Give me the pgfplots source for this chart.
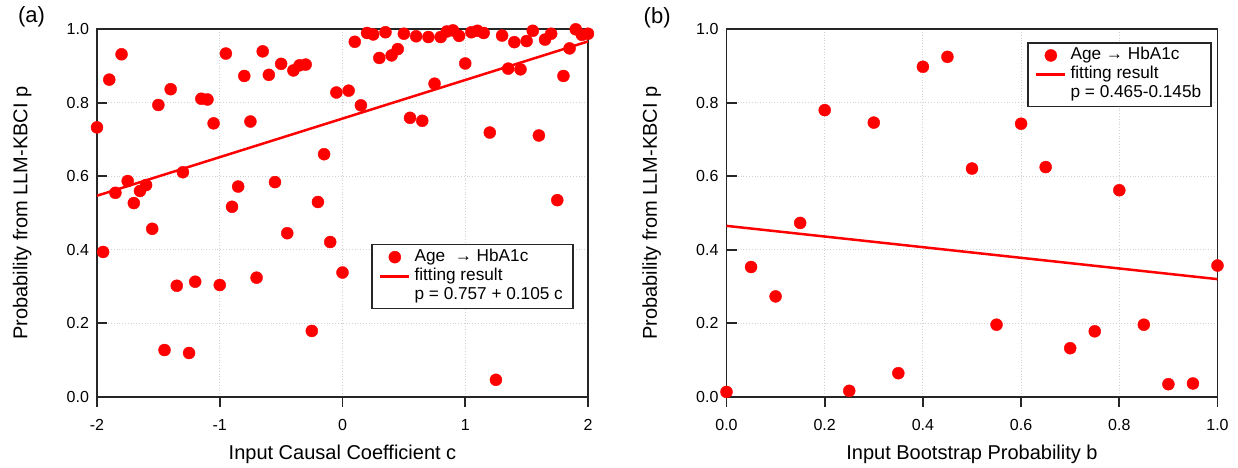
\documentclass[border=0pt]{standalone}
\usepackage{fontspec}
\setmainfont{Liberation Sans}
\usepackage{pgfplots}
\pgfplotsset{compat=1.18}

\pgfplotstableread{
c p
-2.00 0.733
-1.95 0.394
-1.90 0.863
-1.85 0.555
-1.80 0.932
-1.75 0.587
-1.70 0.527
-1.65 0.560
-1.60 0.576
-1.55 0.457
-1.50 0.794
-1.45 0.127
-1.40 0.837
-1.35 0.302
-1.30 0.611
-1.25 0.119
-1.20 0.313
-1.15 0.811
-1.10 0.809
-1.05 0.744
-1.00 0.304
-0.95 0.934
-0.90 0.517
-0.85 0.572
-0.80 0.873
-0.75 0.749
-0.70 0.324
-0.65 0.940
-0.60 0.876
-0.55 0.584
-0.50 0.906
-0.45 0.445
-0.40 0.888
-0.35 0.902
-0.30 0.904
-0.25 0.179
-0.20 0.530
-0.15 0.660
-0.10 0.421
-0.05 0.828
0.00 0.338
0.05 0.833
0.10 0.966
0.15 0.793
0.20 0.990
0.25 0.986
0.30 0.922
0.35 0.992
0.40 0.929
0.45 0.946
0.50 0.988
0.55 0.759
0.60 0.981
0.65 0.751
0.70 0.979
0.75 0.852
0.80 0.979
0.85 0.994
0.90 0.997
0.95 0.982
1.00 0.907
1.05 0.992
1.10 0.996
1.15 0.990
1.20 0.719
1.25 0.046
1.30 0.983
1.35 0.893
1.40 0.965
1.45 0.891
1.50 0.968
1.55 0.996
1.60 0.711
1.65 0.972
1.70 0.988
1.75 0.535
1.80 0.873
1.85 0.948
1.90 1.000
1.95 0.985
2.00 0.988
}\dataA

\pgfplotstableread{
b p
0.00 0.013
0.05 0.353
0.10 0.273
0.15 0.473
0.20 0.780
0.25 0.016
0.30 0.746
0.35 0.064
0.40 0.898
0.45 0.925
0.50 0.621
0.55 0.196
0.60 0.743
0.65 0.625
0.70 0.132
0.75 0.178
0.80 0.562
0.85 0.196
0.90 0.034
0.95 0.036
1.00 0.357
}\dataB

\pgfplotsset{
 myaxis/.style={
  scale only axis, width=245.5pt, height=183.7pt,
  ymin=0, ymax=1, ytick={0,0.2,0.4,0.6,0.8,1},
  clip=false,
  tick align=inside, tick pos=left, major tick length=5pt,
  xtick style={yshift=-5pt, line width=0.9pt, color=black!85},
  ytick style={line width=0.9pt, color=black!85},
  axis line style={line width=0.9pt, black!85},
  grid=major, major grid style={densely dotted, gray!35, line width=0.5pt},
  tick label style={font=\fontsize{8}{9.6}\selectfont, /pgf/number format/assume math mode=true},
  yticklabel style={/pgf/number format/.cd, fixed, fixed zerofill, precision=1, /tikz/.cd, xshift=-0.5pt},
  xticklabel style={yshift=-7.75pt},
  label style={font=\fontsize{10}{12}\selectfont},
  every axis x label/.style={at={(axis description cs:0.5,-0.1696)}, anchor=base},
  every axis y label/.style={at={(axis description cs:-0.142,0.5)}, rotate=90, anchor=base},
  legend style={font=\fontsize{8.6}{10}\selectfont, draw=black!85, line width=0.8pt,
    legend cell align=left, nodes={inner ysep=0pt, text height=6.8pt, text depth=2.85pt}, inner ysep=1.5pt},
 },
 pts/.style={only marks, mark=*, mark size=3pt, red, mark options={fill=red, draw=red, line width=0.2pt}},
 fit/.style={red, line width=1.25pt},
 fitleg/.style={red, line width=1.25pt, legend image code/.code={\draw[##1] (0.045cm,0cm) -- (0.555cm,0cm);}},
}

\begin{document}
\begin{tikzpicture}
\useasboundingbox (0,0) rectangle (619pt,233.5pt);
\begin{axis}[myaxis, at={(48.5pt,35.15pt)}, anchor=south west,
  xmin=-2, xmax=2, xtick={-2,-1,0,1,2},
  xlabel={Input Causal Coefficient c},
  ylabel={Probability from LLM-KBCI p},
  legend style={at={(axis description cs:0.558,0.4165)}, anchor=north west}]
\addplot[fit, forget plot] coordinates {(-2,0.547) (2,0.967)};
\addplot[pts] table[x=c, y=p] {\dataA};
\addlegendentry{Age\ \ → HbA1c}
\addlegendimage{fitleg}
\addlegendentry{fitting result}
\addlegendimage{empty legend}
\addlegendentry{p = 0.757 + 0.105 c}
\node[anchor=base west, font=\fontsize{11}{13}\selectfont] at (axis description cs:-0.175,1.0185) {(a)};
\end{axis}
\begin{axis}[myaxis, at={(363.25pt,35.15pt)}, anchor=south west,
  xmin=0, xmax=1, xtick={0,0.2,0.4,0.6,0.8,1},
  xticklabel style={/pgf/number format/.cd, fixed, fixed zerofill, precision=1},
  xlabel={Input Bootstrap Probability b},
  ylabel={Probability from LLM-KBCI p},
  legend style={at={(axis description cs:0.612,0.9655)}, anchor=north west}]
\addplot[fit, forget plot] coordinates {(0,0.465) (1,0.320)};
\addplot[pts] table[x=b, y=p] {\dataB};
\addlegendentry{Age → HbA1c}
\addlegendimage{fitleg}
\addlegendentry{fitting result}
\addlegendimage{empty legend}
\addlegendentry{p = 0.465-0.145b}
\node[anchor=base west, font=\fontsize{11}{13}\selectfont] at (axis description cs:-0.183,1.016) {(b)};
\end{axis}
\end{tikzpicture}
\end{document}
